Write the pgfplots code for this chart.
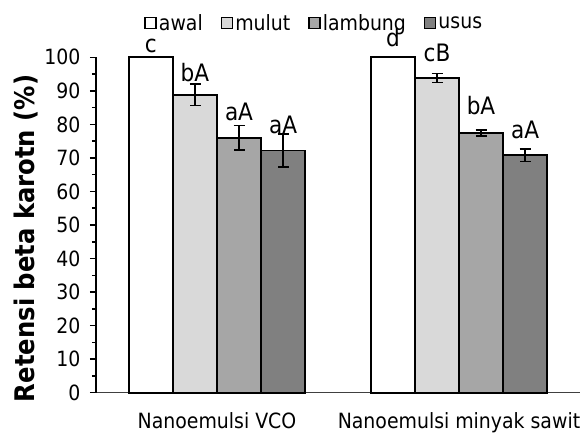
\documentclass[border=0pt]{standalone}
\usepackage{fontspec}
\setmainfont{DejaVu Sans Condensed}
\usepackage{pgfplots}
\pgfplotsset{compat=1.18}
\definecolor{cmulut}{HTML}{D9D9D9}
\definecolor{clamb}{HTML}{A6A6A6}
\definecolor{cusus}{HTML}{808080}
\begin{document}
\begin{tikzpicture}
\useasboundingbox (0,0) rectangle (581pt,433pt);
\begin{axis}[
  at={(96pt,40.3pt)}, anchor=south west,
  scale only axis, width=484pt, height=335.4pt,
  clip=false,
  ybar=0pt, bar width=44pt,
  xmin=0.5, xmax=2.5, ymin=0, ymax=100,
  xtick={1,2}, xticklabels={Nanoemulsi VCO, Nanoemulsi minyak sawit},
  major x tick style={draw=none},
  ytick={0,10,...,100}, minor y tick num=1,
  tick align=outside, major tick length=6pt, minor tick length=4pt,
  y tick style={black, line width=1.5pt},
  axis x line*=bottom, axis y line*=left,
  x axis line style={color=black!75, line width=1.5pt},
  y axis line style={black, line width=2pt},
  /pgf/number format/assume math mode=true,
  tick label style={font=\fontsize{21}{25}\selectfont, black},
  yticklabel style={xshift=-6pt},
  xticklabel style={inner sep=0pt, yshift=-14pt},
  ylabel={\bfseries Retensi beta karotn (\%)},
  every axis y label/.style={at={(rel axis cs:0,0.46)}, xshift=-70pt, rotate=90, anchor=center,
    font=\fontsize{27}{32}\selectfont},
  legend columns=4,
  legend style={draw=none, fill=none, at={(axis description cs:0.451,1.102)}, anchor=center,
    font=\fontsize{21}{25}\selectfont,
    nodes={inner xsep=2pt, inner ysep=1pt},
    /tikz/every even column/.append style={column sep=16pt},
    inner sep=0pt},
  legend image code/.code={\draw[#1, line width=1.5pt] (0pt,-5.5pt) rectangle (11pt,5.5pt);},
  every axis plot/.append style={draw=black, line width=1.8pt},
  error bars/error bar style={line width=1.5pt, black},
  error bars/error mark options={rotate=90, mark size=5.5pt, line width=1.5pt, black},
]
\addplot[fill=white] coordinates {(1,100) (2,100)};
\addplot[fill=cmulut, error bars/.cd, y dir=both, y explicit] coordinates {(1,88.8) +- (0,3.2) (2,93.8) +- (0,1.3)};
\addplot[fill=clamb, error bars/.cd, y dir=both, y explicit] coordinates {(1,76.0) +- (0,3.7) (2,77.4) +- (0,0.9)};
\addplot[fill=cusus, error bars/.cd, y dir=both, y explicit] coordinates {(1,72.2) +- (0,4.9) (2,70.8) +- (0,1.8)};
\legend{awal, mulut, lambung, usus}
\begin{scope}[every node/.style={font=\fontsize{24}{28}\selectfont, inner sep=0pt}]
\node at (axis cs:0.727,103.4) {c};
\node at (axis cs:0.909,95.5) {bA};
\node at (axis cs:1.091,83.8) {aA};
\node at (axis cs:1.273,79.9) {aA};
\node at (axis cs:1.727,106) {d};
\node at (axis cs:1.909,101.2) {cB};
\node at (axis cs:2.091,85.5) {bA};
\node at (axis cs:2.273,78.3) {aA};
\end{scope}
\end{axis}
\end{tikzpicture}
\end{document}
